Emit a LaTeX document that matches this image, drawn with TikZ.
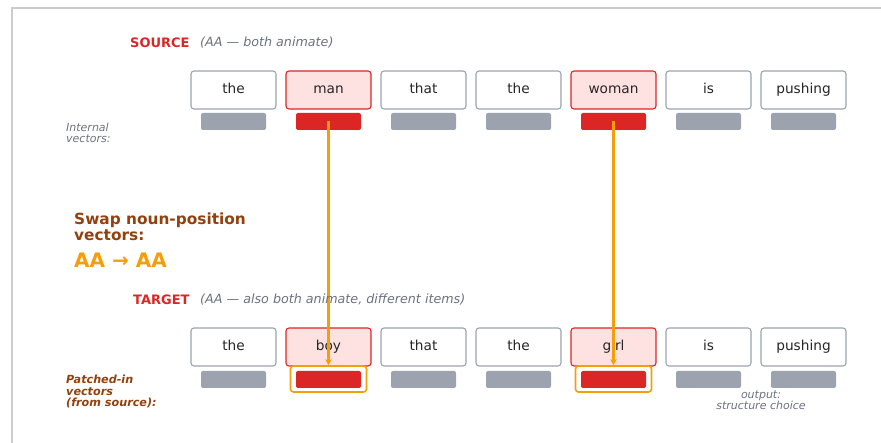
\documentclass[tikz,border=0pt]{standalone}
\usepackage{fontspec}
\setmainfont{DejaVu Sans}
\usetikzlibrary{arrows.meta}
\definecolor{cred}{HTML}{DC2626}
\definecolor{cpink}{HTML}{FEE2E2}
\definecolor{cgray}{HTML}{9CA3AF}
\definecolor{cbrown}{HTML}{92400E}
\definecolor{corange}{HTML}{F59E0B}
\definecolor{ctext}{HTML}{6B7280}
\definecolor{cframe}{HTML}{CCCCCC}
\tikzset{
  word/.style={draw=cgray, fill=white, line width=1.1pt, rounded corners=3pt,
    minimum width=85pt, minimum height=38pt, inner sep=0pt,
    text height=10pt, text depth=3pt,
    font=\fontsize{13.7}{16}\selectfont, text=black!85},
  hiword/.style={word, draw=cred, fill=cpink},
  vec/.style={fill=cgray, rounded corners=2pt, minimum width=65pt, minimum height=17pt, inner sep=0pt},
  hivec/.style={vec, fill=cred},
  patch/.style={draw=corange, line width=1.6pt, rounded corners=3pt, minimum width=76pt, minimum height=26pt, inner sep=0pt},
  arr/.style={draw=corange, line width=2.8pt, -{Stealth[length=6pt,width=6.5pt]}},
  head/.style={anchor=west, inner sep=0pt, font=\fontsize{13}{15}\selectfont\bfseries, text=cred},
  sub/.style={anchor=west, inner sep=0pt, font=\fontsize{12.7}{14}\selectfont\itshape, text=ctext},
  small/.style={anchor=west, inner sep=0pt, align=left, font=\fontsize{11}{11.5}\selectfont\itshape, text=ctext},
}
\begin{document}
\begin{tikzpicture}[x=1pt,y=-1pt]
\useasboundingbox (0,0) rectangle (881,443);
\draw[cframe, line width=1.2pt] (12,8) rectangle (900,460);
% source row
\foreach \w/\h [count=\i] in {the/0,man/1,that/0,the/0,woman/1,is/0,pushing/0}{
  \pgfmathsetmacro{\xx}{233.5+95*(\i-1)}
  \ifnum\h=1
    \node[hiword] (s\i) at (\xx,90) {\w};
    \node[hivec] (sv\i) at (\xx,121.5) {};
  \else
    \node[word] (s\i) at (\xx,90) {\w};
    \node[vec] (sv\i) at (\xx,121.5) {};
  \fi
}
% target row
\foreach \w/\h [count=\i] in {the/0,boy/1,that/0,the/0,girl/1,is/0,pushing/0}{
  \pgfmathsetmacro{\xx}{233.5+95*(\i-1)}
  \ifnum\h=1
    \node[hiword] (t\i) at (\xx,347) {\w};
    \node[patch] (p\i) at (\xx,379) {};
    \node[hivec] (tv\i) at (\xx,379.5) {};
  \else
    \node[word] (t\i) at (\xx,347) {\w};
    \node[vec] (tv\i) at (\xx,379.5) {};
  \fi
}
% arrows
\draw[arr] (sv2.center) -- (p2.north);
\draw[arr] (sv5.center) -- (p5.north);
% labels
\node[head] (srch) at (130,43) {SOURCE};
\node[sub] (srcs) at (200,43) {(AA — both animate)};
\node[head] (tgth) at (133,300) {TARGET};
\node[sub] (tgts) at (200,300) {(AA — also both animate, different items)};
\node[small] (intl) at (66,133) {Internal\\vectors:};
\node[anchor=north west, inner sep=0pt, align=left, text=cbrown, font=\fontsize{15.35}{15.5}\selectfont\bfseries] (swap) at (74,213) {Swap noun-position\\vectors:};
\node[anchor=west, inner sep=0pt, text=corange, font=\fontsize{20}{22}\selectfont\bfseries] (aa) at (74,260) {AA → AA};
\node[small, text=cbrown, font=\fontsize{11.2}{11.5}\selectfont\bfseries\itshape] (patl) at (66,391.5) {Patched-in\\vectors\\(from source):};
\node[small, anchor=center, align=center] (outl) at (761,400) {output:\\structure choice};
\end{tikzpicture}
\end{document}
